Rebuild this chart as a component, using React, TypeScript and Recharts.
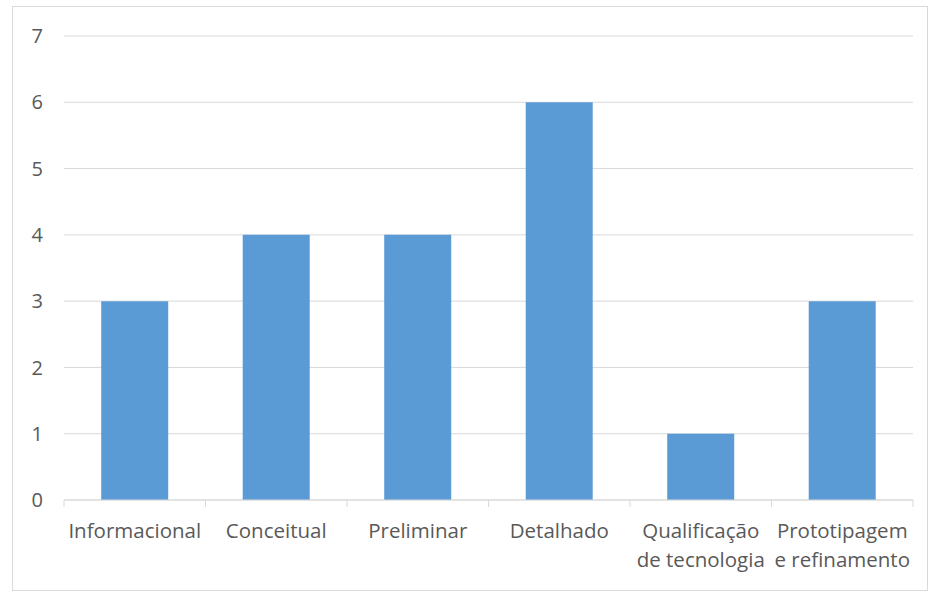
import { BarChart, Bar, XAxis, YAxis, CartesianGrid } from "recharts";

const categories = [
  "Informacional",
  "Conceitual",
  "Preliminar",
  "Detalhado",
  "Qualificação\nde tecnologia",
  "Prototipagem\ne refinamento",
];
const values = [3, 4, 4, 6, 1, 3];
const yTicks = [0, 1, 2, 3, 4, 5, 6, 7];

const data = categories.map((name, i) => ({ name, value: values[i] }));

const FONT = "'Open Sans', 'Noto Sans', sans-serif";
const TEXT = "#595959";
const GRID = "#D9D9D9";

// category label (may wrap onto two lines) plus boundary tick marks
function CategoryTick(props: any) {
  const { x, y, payload, index, visibleTicksCount } = props;
  const half = payload.offset ?? 0;
  const lines = String(payload.value).split("\n");
  const isLast = index === visibleTicksCount - 1;
  return (
    <g>
      <line x1={x - half} x2={x - half} y1={y - 10} y2={y - 3} stroke={GRID} />
      {isLast && <line x1={x + half} x2={x + half} y1={y - 10} y2={y - 3} stroke={GRID} />}
      <text x={x} y={y + 28} textAnchor="middle" fill={TEXT} fontSize={20.5} fontFamily={FONT}>
        {lines.map((l, i) => (
          <tspan key={i} x={x} dy={i === 0 ? 0 : 29}>
            {l}
          </tspan>
        ))}
      </text>
    </g>
  );
}

export default function App() {
  return (
    <div style={{ position: "absolute", left: 0, top: 0, width: 932, height: 593, background: "#fff" }}>
      <div
        style={{
          position: "absolute",
          left: 12,
          top: 6,
          width: 914,
          height: 583,
          border: "1px solid #D9D9D9",
        }}
      />
      <BarChart
        width={932}
        height={593}
        data={data}
        margin={{ top: 36, right: 19, left: 0, bottom: 0 }}
        barCategoryGap="26.3%"
      >
        <CartesianGrid vertical={false} stroke={GRID} />
        <XAxis
          dataKey="name"
          height={93}
          axisLine={{ stroke: GRID }}
          tickLine={false}
          tickSize={8}
          interval={0}
          tick={<CategoryTick />}
        />
        <YAxis
          width={64}
          domain={[0, 7]}
          ticks={yTicks}
          axisLine={false}
          tickLine={false}
          tickSize={0}
          tickMargin={21}
          tick={{ fill: TEXT, fontSize: 20, fontFamily: FONT }}
        />
        <Bar dataKey="value" fill="#5B9BD5" isAnimationActive={false} />
      </BarChart>
    </div>
  );
}
